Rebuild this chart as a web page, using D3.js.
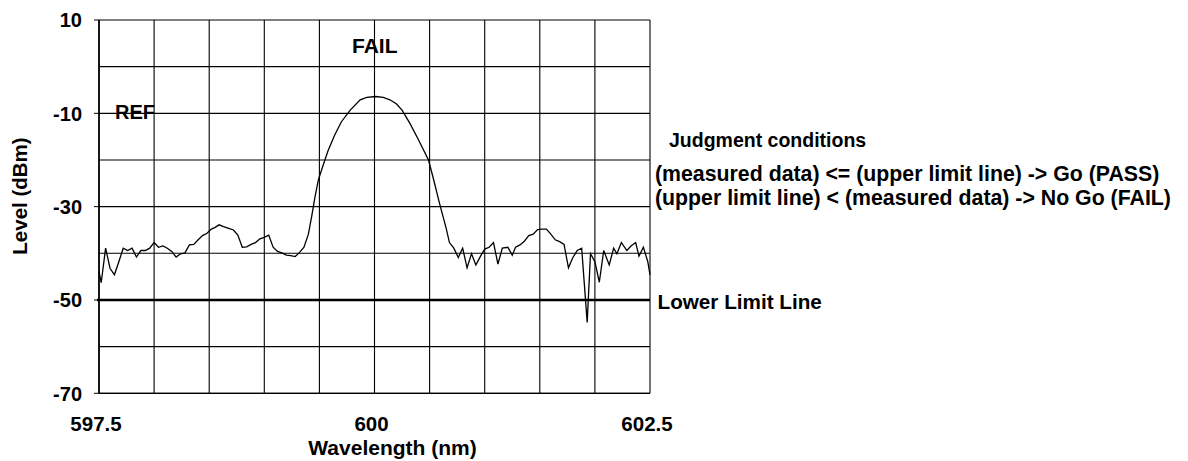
<!DOCTYPE html>
<html>
<head>
<meta charset="utf-8">
<script src="https://cdn.jsdelivr.net/npm/d3@7"></script>
<style>
  html, body { margin: 0; padding: 0; background: #fff; }
  svg { display: block; }
  text { font-family: "Liberation Sans", Arial, sans-serif; font-weight: bold; fill: #000; }
</style>
</head>
<body>
<svg id="chart" width="1188" height="461"></svg>
<script>
// ---- data ----
const wavelength = [
  597.50, 597.52, 597.56, 597.60, 597.64, 597.68, 597.72, 597.76, 597.80, 597.84,
  597.88, 597.92, 597.96, 598.00, 598.04, 598.08, 598.12, 598.16, 598.20, 598.24,
  598.28, 598.32, 598.36, 598.40, 598.44, 598.48, 598.52, 598.55, 598.59, 598.63,
  598.67, 598.72, 598.76, 598.80, 598.84, 598.88, 598.92, 598.96, 599.00, 599.04,
  599.08, 599.12, 599.16, 599.20, 599.24, 599.28, 599.32, 599.36, 599.40, 599.43,
  599.46, 599.49, 599.53, 599.58, 599.64, 599.70, 599.78, 599.87, 599.93, 600.01,
  600.08, 600.14, 600.20, 600.25, 600.32, 600.40, 600.49, 600.53, 600.59, 600.65,
  600.68, 600.72, 600.76, 600.80, 600.84, 600.88, 600.92, 600.96, 601.00, 601.04,
  601.08, 601.12, 601.16, 601.21, 601.25, 601.28, 601.32, 601.36, 601.40, 601.44,
  601.48, 601.52, 601.56, 601.60, 601.64, 601.68, 601.72, 601.76, 601.80, 601.84,
  601.88, 601.93, 601.96, 602.00, 602.04, 602.08, 602.13, 602.17, 602.20, 602.24,
  602.29, 602.33, 602.37, 602.40, 602.44, 602.48, 602.50
];
const level = [
  -43.9, -46.3, -38.9, -43.2, -44.6, -41.8, -38.9, -39.4, -38.9, -40.8,
  -39.4, -39.4, -38.9, -37.7, -38.7, -38.4, -38.9, -39.6, -40.8, -40.1,
  -39.9, -38.2, -38.1, -37.1, -36.2, -35.7, -34.8, -34.5, -33.9, -34.3,
  -34.6, -35.0, -36.1, -38.7, -38.6, -38.1, -37.7, -36.9, -36.6, -36.1,
  -38.7, -39.6, -39.9, -40.4, -40.5, -40.7, -39.8, -38.7, -35.9, -32.1,
  -27.9, -24.3, -21.4, -17.9, -14.6, -11.8, -9.3, -7.1, -6.6, -6.4,
  -6.6, -7.1, -8.0, -9.3, -12.1, -15.7, -20.0, -23.6, -29.3, -34.6,
  -37.7, -38.9, -40.9, -38.9, -43.1, -40.1, -42.5, -40.7, -39.1, -38.7,
  -37.7, -42.3, -38.9, -38.7, -40.4, -38.7, -38.2, -37.4, -36.2, -35.9,
  -34.9, -34.8, -34.8, -35.9, -37.1, -37.5, -38.1, -43.1, -40.9, -39.4,
  -38.9, -54.8, -40.1, -41.8, -46.2, -39.4, -42.5, -38.9, -40.1, -37.7,
  -39.4, -38.4, -37.7, -40.6, -38.7, -41.8, -44.6
];
const lowerLimit = -50;
const xTickValues = [597.5, 600, 602.5];
const xTickLabels = ["597.5", "600", "602.5"];
const yTickValues = [10, -10, -30, -50, -70];
const yTickLabels = ["10", "-10", "-30", "-50", "-70"];
const xDomain = [597.5, 602.5];
const yDomain = [-70, 10];
const xTitle = "Wavelength (nm)";
const yTitle = "Level (dBm)";
const judgmentTitle = "Judgment conditions";
const judgmentLines = [
  "(measured data) <= (upper limit line) -> Go (PASS)",
  "(upper limit line) < (measured data) -> No Go (FAIL)"
];
const lowerLimitLabel = "Lower Limit Line";
const refLabel = "REF";
const failLabel = "FAIL";

// ---- layout ----
const svg = d3.select("#chart");
const L = 99, R = 650, T = 20, B = 393.3;
const x = d3.scaleLinear().domain(xDomain).range([L, R]);
const y = d3.scaleLinear().domain(yDomain).range([B, T]);

// grid
const g = svg.append("g");
const xGrid = d3.range(xDomain[0], xDomain[1] + 1e-9, 0.5);
const yGrid = d3.range(yDomain[0], yDomain[1] + 1e-9, 10);
g.selectAll("line.vg").data(xGrid).join("line")
  .attr("x1", d => x(d)).attr("x2", d => x(d))
  .attr("y1", T).attr("y2", B)
  .attr("stroke", "#000").attr("stroke-width", 1.1);
g.selectAll("line.hg").data(yGrid).join("line")
  .attr("x1", L).attr("x2", R)
  .attr("y1", d => y(d)).attr("y2", d => y(d))
  .attr("stroke", "#000").attr("stroke-width", 1.1);

// frame
svg.append("line").attr("x1", L).attr("x2", L).attr("y1", T).attr("y2", B)
  .attr("stroke", "#000").attr("stroke-width", 1.6);
svg.append("line").attr("x1", L).attr("x2", R).attr("y1", B).attr("y2", B)
  .attr("stroke", "#000").attr("stroke-width", 1.3);

// y ticks (small, left)
svg.selectAll("line.yt").data(yTickValues).join("line")
  .attr("x1", L - 5).attr("x2", L)
  .attr("y1", d => y(d)).attr("y2", d => y(d))
  .attr("stroke", "#000").attr("stroke-width", 1);

// lower limit line
svg.append("line")
  .attr("x1", L - 2).attr("x2", R)
  .attr("y1", y(lowerLimit)).attr("y2", y(lowerLimit))
  .attr("stroke", "#000").attr("stroke-width", 2.6);

// trace
const pts = wavelength.map((w, i) => [w, level[i]]);
svg.append("path")
  .datum(pts)
  .attr("fill", "none")
  .attr("stroke", "#000")
  .attr("stroke-width", 1.3)
  .attr("stroke-linejoin", "miter")
  .attr("d", d3.line().x(d => x(d[0])).y(d => y(d[1])));

// y tick labels
svg.selectAll("text.yl").data(yTickValues).join("text")
  .attr("x", 82).attr("y", d => y(d)).attr("dy", "0.36em")
  .attr("text-anchor", "end").style("font-size", "20px")
  .text((d, i) => yTickLabels[i]);

// x tick labels
svg.selectAll("text.xl").data(xTickValues).join("text")
  .attr("x", d => x(d) - 3).attr("y", 431)
  .attr("text-anchor", "middle").style("font-size", "20.5px")
  .text((d, i) => xTickLabels[i]);

// axis titles
svg.append("text").attr("x", 392.5).attr("y", 455)
  .attr("text-anchor", "middle").style("font-size", "21px").text(xTitle);
svg.append("text")
  .attr("transform", "translate(27,196) rotate(-90)")
  .attr("text-anchor", "middle").style("font-size", "20.5px").text(yTitle);

// annotations
svg.append("text").attr("x", 115).attr("y", 118.5).style("font-size", "20px").text(refLabel);
svg.append("text").attr("x", 352).attr("y", 53.3).style("font-size", "21px").text(failLabel);
svg.append("text").attr("x", 657.5).attr("y", 309).style("font-size", "20.7px").text(lowerLimitLabel);
svg.append("text").attr("x", 669).attr("y", 147).style("font-size", "19.5px").text(judgmentTitle);
svg.selectAll("text.jl").data(judgmentLines).join("text")
  .attr("x", 655).attr("y", (d, i) => 181 + i * 24)
  .style("font-size", "21.3px").text(d => d);
</script>
</body>
</html>
